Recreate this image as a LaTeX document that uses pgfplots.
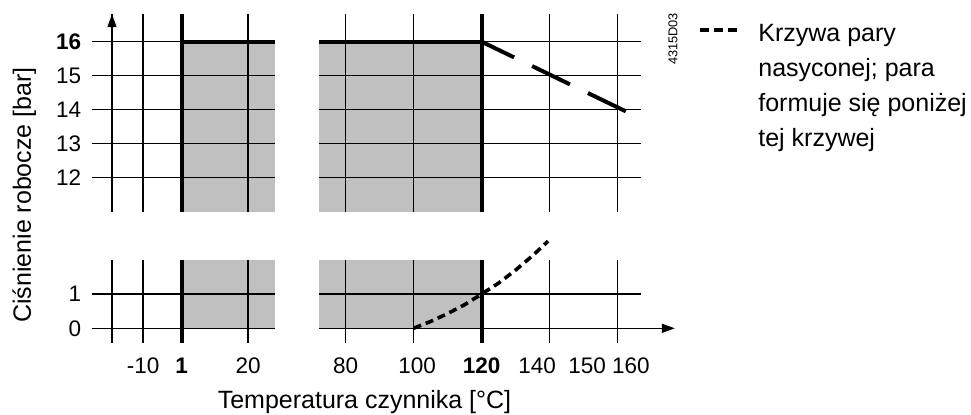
\documentclass[border=0pt]{standalone}
\usepackage{fontspec}
\setmainfont{Liberation Sans}
\usepackage{pgfplots}
\pgfplotsset{compat=1.18}
\usetikzlibrary{arrows.meta}

\definecolor{shade}{RGB}{192,192,192}

\pgfplotsset{
  panel/.style={
    scale only axis, axis on top, clip=false,
    axis line style={draw=none},
    grid=major, major grid style={black, line width=0.7pt},
    major tick length=0pt,
    tick label style={font=\fontsize{11.25}{13}\selectfont},
    yticklabel style={xshift=-1.75pt},
    xticklabel style={yshift=-4pt},
  },
  thick line/.style={black, line width=2pt, forget plot},
  area/.style={fill=shade, draw=none, forget plot},
}

\begin{document}
\begin{tikzpicture}
\useasboundingbox (0,0) rectangle (485.5pt,-207pt);

% upper left panel
\begin{axis}[panel, at={(45.85pt,-105.85pt)}, anchor=south west,
  width=91.65pt, height=98.75pt,
  xmin=-24.7, xmax=27.66, ymin=11, ymax=16.81,
  xtick={-18.9,-10,1,20}, xticklabels={},
  ytick={12,13,14,15,16}, yticklabels={12,13,14,15,\textbf{16}}]
  \addplot[area] coordinates {(1,11) (1,16) (27.66,16) (27.66,11)};
  \addplot[thick line] coordinates {(1,11) (1,16.81)};
  \addplot[thick line] coordinates {(1,16) (27.66,16)};
  \draw[-{Triangle[length=6.5pt,width=4.5pt]}, line width=0.7pt]
    (axis cs:-18.9,11) -- (axis cs:-18.9,16.81);
\end{axis}

% lower left panel
\begin{axis}[panel, at={(45.85pt,-171.35pt)}, anchor=south west,
  width=91.65pt, height=41.5pt,
  xmin=-24.7, xmax=27.66, ymin=-0.42, ymax=2,
  xtick={-18.9,-10,1,20}, xticklabels={,-10,\textbf{1},20},
  ytick={0,1}, yticklabels={0,1}]
  \addplot[area] coordinates {(1,0) (1,2) (27.66,2) (27.66,0)};
  \addplot[thick line] coordinates {(1,-0.42) (1,2)};
\end{axis}

% upper right panel
\begin{axis}[panel, at={(159.5pt,-105.85pt)}, anchor=south west,
  width=160.85pt, height=98.75pt,
  xmin=72.15, xmax=166.76, ymin=11, ymax=16.81,
  xtick={80,100,120,140,160}, xticklabels={},
  ytick={12,13,14,15,16}, yticklabels={}]
  \addplot[area] coordinates {(72.15,11) (72.15,16) (120,16) (120,11)};
  \addplot[thick line] coordinates {(120,11) (120,16.81)};
  \addplot[thick line] coordinates {(72.15,16) (120,16)};
  % saturated steam limit above 120 C
  \addplot[thick line, dash pattern=on 21pt off 10pt, dash phase=3pt]
    coordinates {(120,16) (164.5,13.85)};
\end{axis}

% lower right panel
\begin{axis}[panel, at={(159.5pt,-171.35pt)}, anchor=south west,
  width=160.85pt, height=41.5pt,
  xmin=72.15, xmax=166.76, ymin=-0.42, ymax=2,
  xtick={80,100,120,140,160}, xticklabels={80,{},\textbf{120},{},{}},
  extra x ticks={101,136.3,151,163.9}, extra x tick labels={100,140,150,160},
  extra x tick style={grid=none},
  ytick={0,1}, yticklabels={},
  legend cell align=left,
  legend style={at={(1.1781,3.8875)}, anchor=north west, draw=none, fill=none,
    inner sep=0pt, column sep=7pt,
    nodes={align=left, font=\fontsize{12.5}{17.5}\selectfont}},
  legend image code/.code={
    \draw[black, line width=2pt, dash pattern=on 4.5pt off 2.5pt]
      (0pt,26pt+0.5ex) -- (19pt,26pt+0.5ex);}]
  \addplot[area] coordinates {(72.15,0) (72.15,2) (120,2) (120,0)};
  \addplot[thick line] coordinates {(120,-0.42) (120,2)};
  \draw[-{Triangle[length=6.5pt,width=4.5pt]}, line width=0.7pt]
    (axis cs:166.76,0) -- (axis cs:176.8,0);
  % saturation curve (gauge pressure)
  \addplot[black, line width=1.8pt, dash pattern=on 4pt off 2.5pt] coordinates {
    (100,0) (105,0.20) (110,0.43) (115,0.69) (120,1.00)
    (125,1.32) (130,1.70) (135,2.12) (139.5,2.54)};
  \addlegendentry{Krzywa pary\\nasyconej; para\\formuje się poniżej\\tej krzywej}
\end{axis}

\node[rotate=90, anchor=base, font=\fontsize{12.5}{15}\selectfont]
  at (15.5pt,-97.5pt) {Ciśnienie robocze [bar]};
\node[anchor=base, font=\fontsize{12.5}{15}\selectfont]
  at (182.25pt,-204pt) {Temperatura czynnika [°C]};
\node[rotate=90, font=\fontsize{6.4}{7}\selectfont] at (336.5pt,-19.5pt) {4315D03};
\end{tikzpicture}
\end{document}
